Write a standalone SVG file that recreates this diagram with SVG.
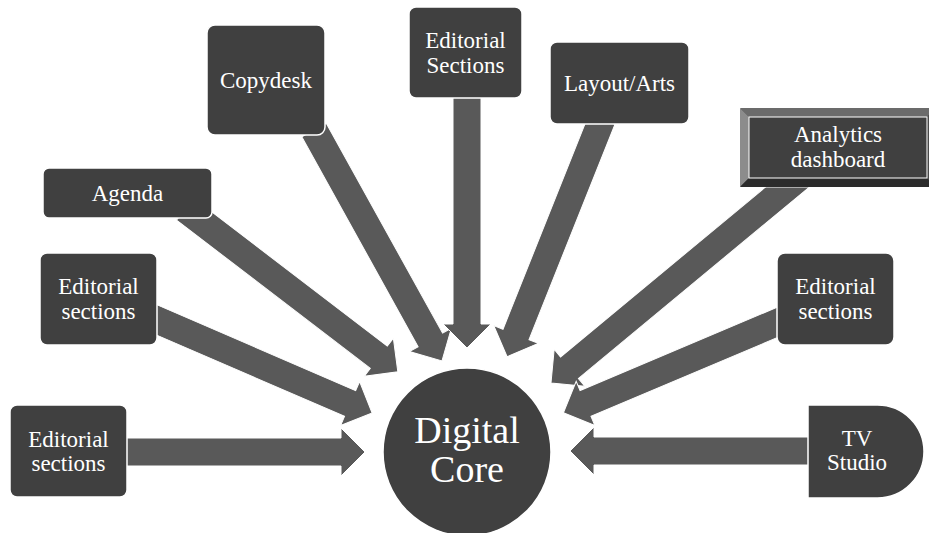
<svg xmlns="http://www.w3.org/2000/svg" width="929" height="533" viewBox="0 0 929 533">
<style>
.node{fill:#404040;stroke:#ffffff;stroke-width:1.5}
.arr{fill:#595959;stroke:#ffffff;stroke-width:1}
.t{font-family:'Liberation Serif','Times New Roman',Times,Tinos,'Noto Serif','DejaVu Serif',FreeSerif,serif;font-size:23px;fill:#ffffff;text-anchor:middle}
.big{font-family:'Liberation Serif','Times New Roman',Times,Tinos,'Noto Serif','DejaVu Serif',FreeSerif,serif;font-size:38px;fill:#ffffff;text-anchor:middle}
</style>
<rect width="929" height="533" fill="#ffffff"/>
<g id="connectors">
<polygon class="arr" transform="translate(120,452)" points="0,-14 221,-14 221,-24 245,0 221,24 221,14 0,14"/>
<polygon class="arr" transform="translate(150,317) rotate(23.38)" points="0,-14 218,-14 218,-24 242,0 218,24 218,14 0,14"/>
<polygon class="arr" transform="translate(185,209) rotate(37.42)" points="0,-14 244,-14 244,-24 268,0 244,24 244,14 0,14"/>
<polygon class="arr" transform="translate(314,130) rotate(61)" points="0,-14 240,-14 240,-24 264,0 240,24 240,14 0,14"/>
<polygon class="arr" transform="translate(467,95) rotate(90)" points="0,-14 229,-14 229,-24 253,0 229,24 229,14 0,14"/>
<polygon class="arr" transform="translate(602,119) rotate(111.76)" points="0,-14 232,-14 232,-24 256,0 232,24 232,14 0,14"/>
<polygon class="arr" transform="translate(802,175) rotate(140.35)" points="0,-14 302,-14 302,-24 326,0 302,24 302,14 0,14"/>
<polygon class="arr" transform="translate(790,317) rotate(157.08)" points="0,-14 222,-14 222,-24 246,0 222,24 222,14 0,14"/>
<polygon class="arr" transform="translate(815,451) rotate(180)" points="0,-14 221,-14 221,-24 245,0 221,24 221,14 0,14"/>
</g>
<g id="node-editorial-bottom-left">
<rect class="node" x="10" y="405" width="117" height="92" rx="7"/>
<text class="t" x="68.5" y="447">Editorial</text>
<text class="t" x="68.5" y="471">sections</text>
</g>
<g id="node-editorial-mid-left">
<rect class="node" x="40" y="253" width="117" height="92" rx="7"/>
<text class="t" x="98.5" y="294">Editorial</text>
<text class="t" x="98.5" y="318.5">sections</text>
</g>
<g id="node-agenda">
<rect class="node" x="43" y="168" width="169" height="50" rx="6"/>
<text class="t" x="127.5" y="201">Agenda</text>
</g>
<g id="node-copydesk">
<rect class="node" x="207" y="25" width="118" height="110" rx="8"/>
<text class="t" x="266" y="88">Copydesk</text>
</g>
<g id="node-editorial-top">
<rect class="node" x="409" y="7" width="113" height="91" rx="7"/>
<text class="t" x="465.5" y="48">Editorial</text>
<text class="t" x="465.5" y="72.5">Sections</text>
</g>
<g id="node-layout">
<rect class="node" x="550" y="42" width="139" height="82" rx="7"/>
<text class="t" x="619.5" y="91">Layout/Arts</text>
</g>
<g id="node-analytics">
<rect x="740" y="108" width="196" height="79" fill="#404040" stroke="#ffffff" stroke-width="1"/>
<polygon points="740,108 936,108 927,117 749,117" fill="#6b6b6b"/>
<polygon points="740,108 749,117 749,178 740,187" fill="#8c8c8c"/>
<polygon points="740,187 749,178 927,178 936,187" fill="#2b2b2b"/>
<polygon points="936,108 927,117 927,178 936,187" fill="#4a4a4a"/>
<rect x="749" y="117" width="178" height="61" fill="#404040" stroke="#ffffff" stroke-width="1"/>
<text class="t" x="838" y="142">Analytics</text>
<text class="t" x="838" y="166.5">dashboard</text>
</g>
<g id="node-editorial-right">
<rect class="node" x="777" y="253" width="117" height="92" rx="8"/>
<text class="t" x="835.5" y="294">Editorial</text>
<text class="t" x="835.5" y="318.5">sections</text>
</g>
<g id="node-tv-studio">
<path class="node" d="M808,405 H877.5 A46.5,46.5 0 0 1 877.5,498 H808 Z"/>
<text class="t" x="857" y="446">TV</text>
<text class="t" x="857" y="470">Studio</text>
</g>
<g id="node-digital-core">
<circle class="node" cx="467" cy="452" r="84"/>
<text class="big" x="467" y="443">Digital</text>
<text class="big" x="467" y="482">Core</text>
</g>
</svg>
